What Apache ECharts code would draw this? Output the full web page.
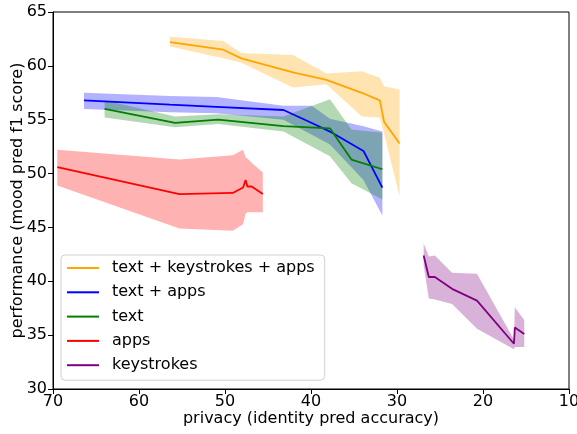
<!DOCTYPE html>
<html>
<head>
<meta charset="utf-8">
<script src="https://cdn.jsdelivr.net/npm/echarts@6/dist/echarts.min.js"></script>
<style>
  html, body { margin: 0; padding: 0; background: #fff; }
  #chart { width: 577px; height: 434px; }
</style>
</head>
<body>
<div id="chart"></div>
<script>
// series names
var names = ['text + keystrokes + apps', 'text + apps', 'text', 'apps', 'keystrokes'];
var colors = ['#FFA500', '#0000FF', '#008000', '#FF0000', '#800080'];
var bandColors = ['rgba(255,165,0,0.3)', 'rgba(0,0,255,0.3)', 'rgba(0,128,0,0.3)', 'rgba(255,0,0,0.3)', 'rgba(128,0,128,0.3)'];

// text + keystrokes + apps
var allX = [56.4, 50.2, 48.1, 42.1, 38.2, 34.1, 32.0, 31.5, 29.7];
var allY = [62.2, 61.5, 60.7, 59.4, 58.7, 57.5, 56.8, 54.8, 52.8];
var allHi = [62.7, 62.3, 61.2, 61.0, 59.3, 59.5, 58.9, 58.1, 57.8];
var allLo = [61.8, 60.7, 60.3, 58.0, 58.3, 55.3, 55.2, 53.7, 47.9];

// text + apps
var taX = [66.4, 56.4, 51.0, 43.2, 39.9, 37.8, 33.9, 31.7];
var taY = [56.8, 56.4, 56.2, 55.9, 54.7, 53.9, 52.1, 48.7];
var taHi = [57.5, 57.2, 57.1, 56.3, 56.3, 55.1, 54.4, 53.9];
var taLo = [56.0, 55.7, 55.6, 55.0, 53.6, 52.7, 49.4, 46.1];

// text
var tX = [64.0, 55.8, 50.8, 43.2, 37.8, 35.3, 31.7];
var tY = [56.0, 54.7, 55.0, 54.4, 54.2, 51.3, 50.4];
var tHi = [56.8, 55.3, 55.5, 55.3, 56.9, 54.1, 53.8];
var tLo = [55.2, 54.3, 54.6, 53.9, 51.6, 49.1, 47.6];

// apps
var aX = [69.5, 55.3, 49.1, 47.9, 47.6, 47.4, 46.9, 45.6];
var aY = [50.6, 48.1, 48.2, 48.7, 49.4, 48.8, 48.8, 48.1];
var aHi = [52.2, 51.3, 51.7, 52.2, 51.5, 51.4, 51.0, 50.1];
var aLo = [48.9, 44.9, 44.7, 45.3, 46.3, 46.4, 46.4, 46.4];

// keystrokes
var kX = [26.9, 26.3, 25.6, 23.6, 20.7, 16.4, 16.3, 15.2];
var kY = [42.4, 40.4, 40.4, 39.3, 38.2, 34.2, 35.7, 35.1];
var kHi = [43.5, 42.3, 42.4, 40.8, 40.7, 34.6, 37.6, 36.4];
var kLo = [41.5, 38.4, 38.3, 37.9, 35.6, 33.7, 33.9, 33.9];

var xTicks = [70, 60, 50, 40, 30, 20, 10];
var yTicks = [30, 35, 40, 45, 50, 55, 60, 65];

var groups = [
  [allX, allY, allHi, allLo],
  [taX, taY, taHi, taLo],
  [tX, tY, tHi, tLo],
  [aX, aY, aHi, aLo],
  [kX, kY, kHi, kLo]
];

var font = 'DejaVu Sans';

function bandSeries(g, idx) {
  var xs = g[0], hi = g[2], lo = g[3];
  return {
    type: 'custom',
    name: names[idx] + ' band',
    z: 1,
    silent: true,
    data: xs.map(function (x, i) { return [x, lo[i], hi[i]]; }),
    encode: { x: 0, y: [1, 2] },
    renderItem: function (params, api) {
      if (params.dataIndex !== 0) return null;
      var pts = [];
      for (var i = 0; i < xs.length; i++) pts.push(api.coord([xs[i], hi[i]]));
      for (var j = xs.length - 1; j >= 0; j--) pts.push(api.coord([xs[j], lo[j]]));
      return { type: 'polygon', shape: { points: pts }, style: { fill: bandColors[idx] } };
    }
  };
}

function lineSeries(g, idx) {
  return {
    type: 'line',
    name: names[idx],
    z: 2,
    symbol: 'none',
    color: colors[idx],
    lineStyle: { width: 1.8, color: colors[idx] },
    data: g[0].map(function (x, i) { return [x, g[1][i]]; })
  };
}

var series = [];
groups.forEach(function (g, i) { series.push(bandSeries(g, i)); });
groups.forEach(function (g, i) { series.push(lineSeries(g, i)); });

var myChart = echarts.init(document.getElementById('chart'));
var option = {
  animation: false,
  grid: { left: 53, right: 8, top: 12, bottom: 45, containLabel: false, outerBoundsMode: 'none',
    show: true, borderColor: '#000', borderWidth: 1, backgroundColor: 'transparent' },
  legend: {
    data: names,
    orient: 'vertical',
    left: 61, top: 255,
    padding: [4, 10, 6, 6],
    icon: 'rect',
    itemWidth: 32, itemHeight: 2, itemGap: 6.3,
    backgroundColor: 'rgba(255,255,255,0.8)',
    borderColor: '#d0d0d0', borderWidth: 1, borderRadius: 4,
    textStyle: { fontFamily: font, fontSize: 16, color: '#000', lineHeight: 18, padding: [0, 0, 0, 8] }
  },
  xAxis: {
    type: 'value', inverse: true, min: 10, max: 70, interval: 10,
    name: 'privacy (identity pred accuracy)', nameLocation: 'middle', nameGap: 22,
    nameMoveOverlap: false,
    nameTextStyle: { fontFamily: font, fontSize: 16, color: '#000' },
    axisLine: { show: true, lineStyle: { color: '#000', width: 1 } },
    axisTick: { show: true, length: 5, lineStyle: { color: '#000' } },
    axisLabel: { fontFamily: font, fontSize: 16, color: '#000', margin: 5,
      formatter: function (v) { return xTicks.indexOf(v) >= 0 ? String(v) : ''; } },
    splitLine: { show: false }
  },
  yAxis: {
    type: 'value', min: 30, max: 65, interval: 5,
    name: 'performance (mood pred f1 score)', nameLocation: 'middle', nameGap: 27,
    nameMoveOverlap: false,
    nameTextStyle: { fontFamily: font, fontSize: 16, color: '#000' },
    axisLine: { show: true, lineStyle: { color: '#000', width: 1 } },
    axisTick: { show: true, length: 5, lineStyle: { color: '#000' } },
    axisLabel: { fontFamily: font, fontSize: 16, color: '#000', margin: 6,
      formatter: function (v) { return yTicks.indexOf(v) >= 0 ? String(v) : ''; } },
    splitLine: { show: false }
  },
  series: series
};

if (option && typeof option === "object") {
  myChart.setOption(option, true);
}
</script>
</body>
</html>
